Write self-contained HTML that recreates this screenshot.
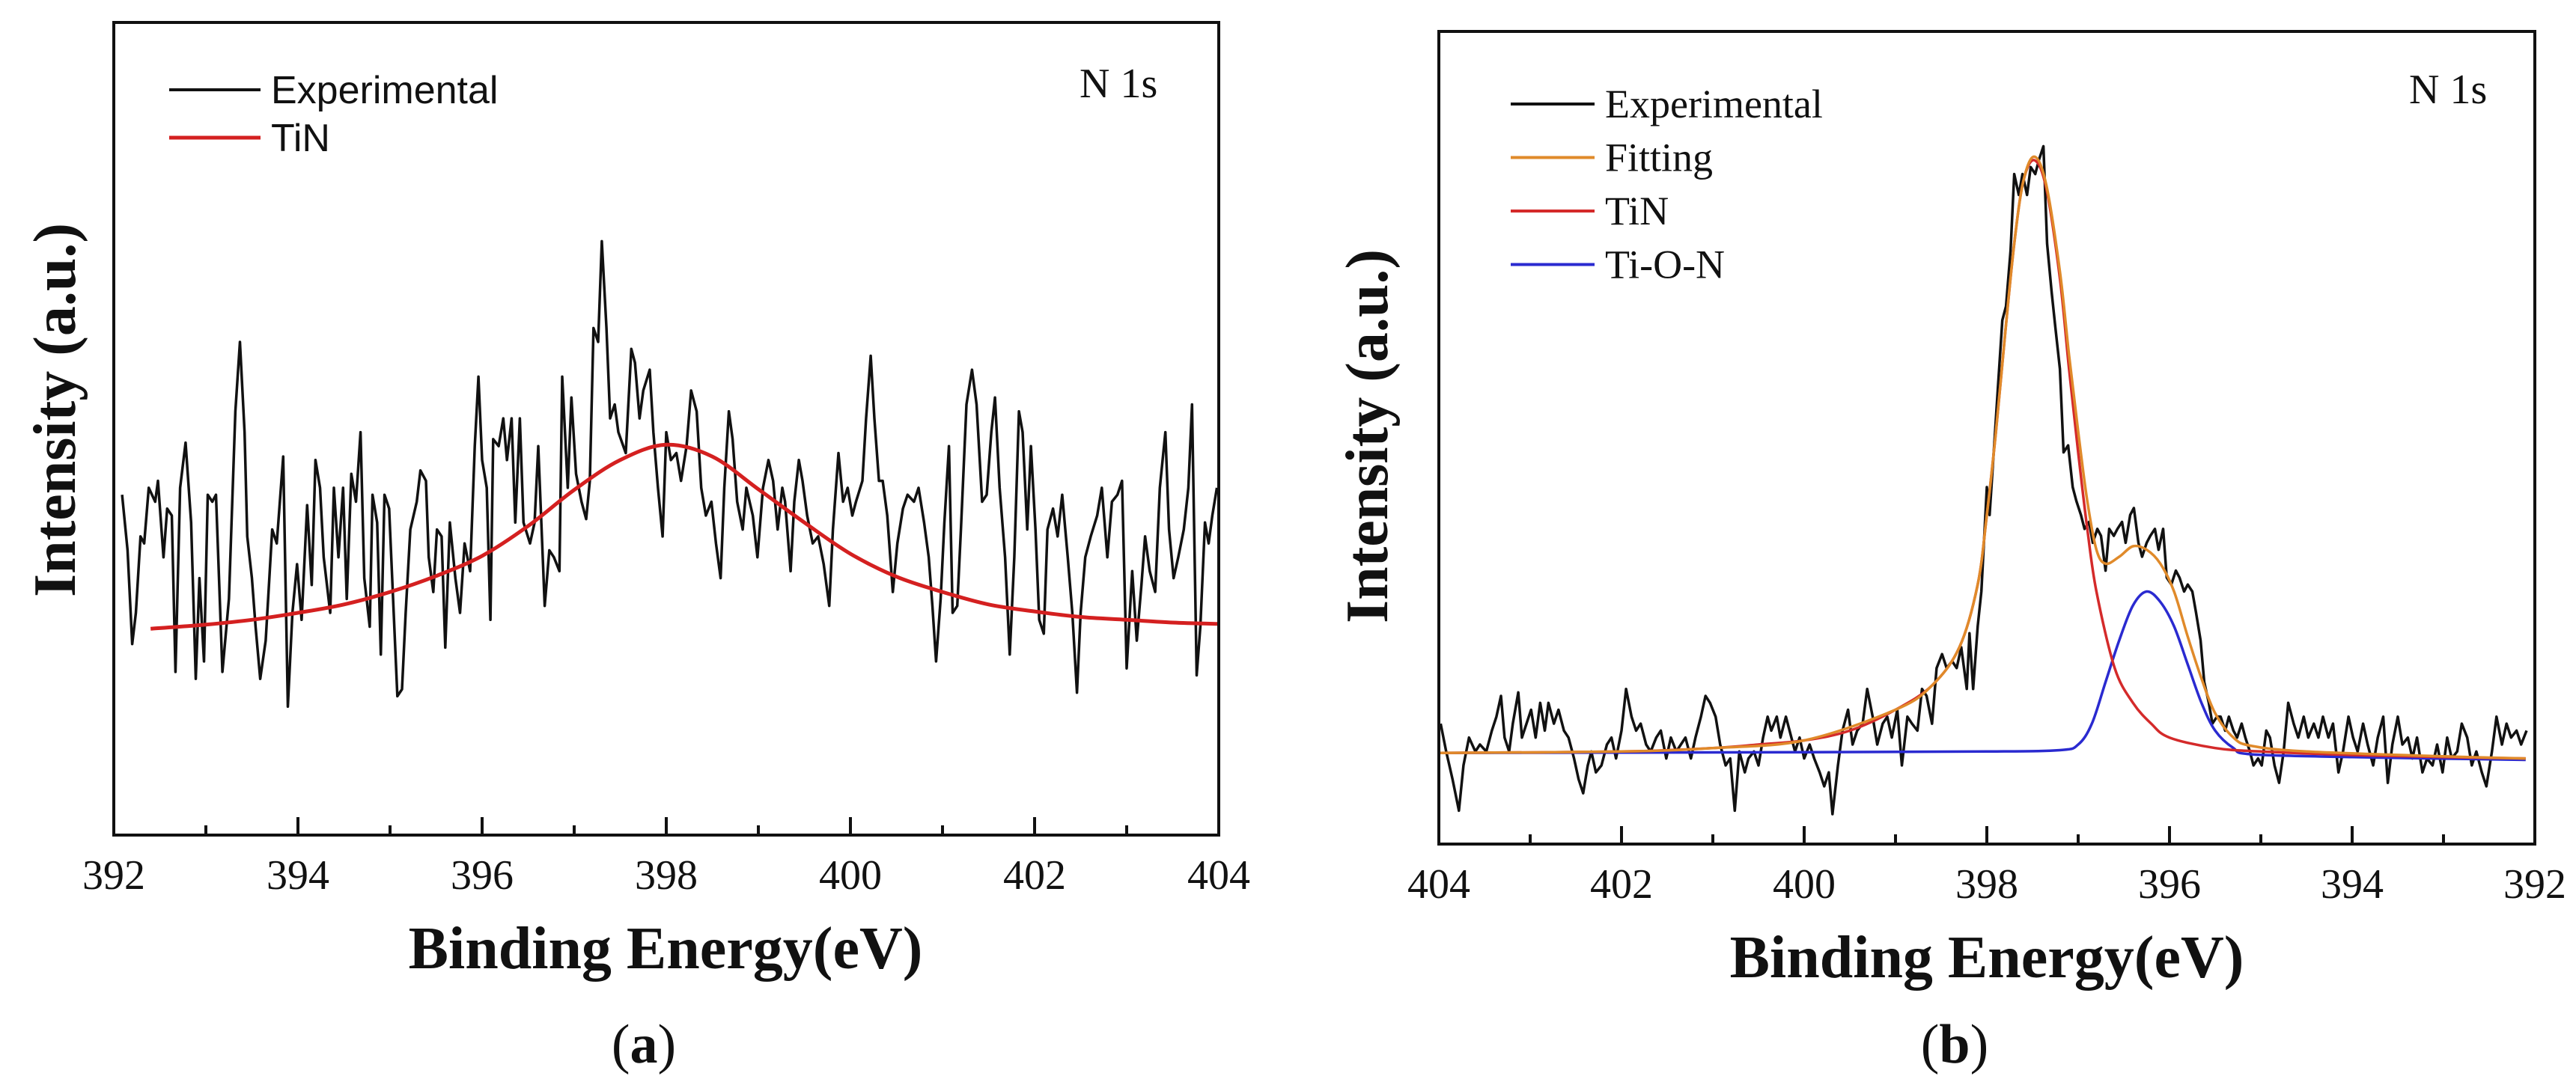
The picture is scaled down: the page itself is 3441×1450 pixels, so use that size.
<!DOCTYPE html>
<html><head><meta charset="utf-8"><style>
html,body{margin:0;padding:0;background:#fff;}
svg{display:block;}
text{font-family:"Liberation Serif",serif;fill:#111;}
.sans{font-family:"Liberation Sans",sans-serif;}
</style></head><body>
<svg id="fig" width="3441" height="1450" viewBox="0 0 3441 1450" xmlns="http://www.w3.org/2000/svg"></svg>
<script>
// ---------- Panel (a) data ----------
const aExpEnergy=[392.09,392.15,392.20,392.24,392.29,392.33,392.38,392.45,392.48,392.54,392.58,392.63,392.67,392.72,392.78,392.84,392.89,392.93,392.98,393.02,393.07,393.11,393.18,393.25,393.32,393.37,393.42,393.45,393.50,393.54,393.59,393.65,393.72,393.77,393.84,393.89,393.94,393.99,394.04,394.10,394.15,394.19,394.24,394.28,394.35,394.39,394.44,394.49,394.53,394.58,394.63,394.68,394.72,394.78,394.81,394.86,394.90,394.94,394.99,395.04,395.08,395.13,395.17,395.22,395.29,395.33,395.39,395.42,395.47,395.51,395.56,395.60,395.65,395.71,395.76,395.81,395.87,395.92,395.96,396.00,396.05,396.09,396.12,396.18,396.23,396.27,396.32,396.36,396.41,396.45,396.52,396.57,396.61,396.68,396.73,396.78,396.84,396.87,396.93,396.97,397.02,397.08,397.13,397.17,397.21,397.26,397.30,397.35,397.39,397.44,397.48,397.56,397.62,397.66,397.71,397.75,397.82,397.86,397.91,397.96,398.00,398.05,398.11,398.16,398.22,398.27,398.33,398.38,398.43,398.49,398.54,398.59,398.63,398.68,398.72,398.77,398.83,398.87,398.94,398.99,399.05,399.11,399.16,399.21,399.26,399.29,399.35,399.39,399.44,399.48,399.53,399.59,399.65,399.71,399.77,399.81,399.87,399.92,399.97,400.02,400.06,400.13,400.17,400.22,400.26,400.31,400.35,400.40,400.46,400.51,400.57,400.62,400.69,400.74,400.80,400.85,400.89,400.93,400.98,401.02,401.07,401.11,401.16,401.20,401.26,401.32,401.37,401.43,401.48,401.53,401.57,401.62,401.68,401.73,401.78,401.83,401.87,401.92,401.96,402.01,402.05,402.10,402.14,402.20,402.25,402.30,402.36,402.41,402.46,402.50,402.55,402.61,402.68,402.73,402.79,402.84,402.90,402.95,403.00,403.06,403.11,403.16,403.20,403.25,403.31,403.36,403.42,403.46,403.51,403.56,403.62,403.67,403.71,403.76,403.80,403.85,403.89,403.93,403.98];
const aExpIntensity=[49,41,27.5,32,43,42,50,48,51,40,47,46,23.5,50,56.5,45,22.5,37,25,49,48,49,23.5,34,61,71,58,43,37,30,22.5,28,44,42,54.5,18.5,32,39,31,47.5,36,54,50,40,32,50,40,50,34,52,48,58,37,30,49,45,26,49,47,32,20,21,32,44,48,52.5,51,40,35,44,43,27,45,37,32,42,38,56,66,54,50,31,57,56,60,54,60,45,60,45,42,45,56,33,41,40,38,66,50,63,52,48,45.5,51,73,71,85.5,73,60,62,58,55,70,68,60,64,67,58,50,43,58,54,55,51,56,64,61,50,46,48,42,37,50,61,57,48,44,50,46,40,50,54,51,44,50,48,38,48,54,51,46,42,43,39,33,44,55,48,50,46,48,51,60,69,60,51,51,46,35,42,47,49,48,50,45,40,33,25,34,45,56,32,33,44,62,67,62,48,49,58,63,50,40,26,40,61,58,44,56,44,31,29,44,47,43,49,40,32,20.5,32,40,43,46,50,40,48,49,51,24,38,28,36,43,38,35,50,58,44,37,40,44,50,62,23,30,45,42,46,50];
const aFitEnergy=[392.4,393,393.5,394,394.5,395,395.5,396,396.5,397,397.5,398,398.5,399,399.5,400,400.5,401,401.5,402,402.5,403,403.5,404];
const aFitIntensity=[29.7,30.3,31,32,33.2,35,37.3,40.2,44.5,49.7,54,56.2,54.5,49.8,45,40.5,37.2,35,33.2,32.2,31.4,31,30.6,30.4];
const aTicks=[392,394,396,398,400,402,404];

// ---------- Panel (b) data ----------
const bExpEnergy=[403.98,403.92,403.85,403.78,403.73,403.67,403.60,403.55,403.48,403.42,403.37,403.32,403.28,403.23,403.19,403.13,403.09,403.04,402.99,402.94,402.89,402.84,402.80,402.74,402.69,402.63,402.58,402.52,402.47,402.42,402.37,402.33,402.28,402.22,402.16,402.11,402.06,402.00,401.95,401.89,401.84,401.79,401.73,401.68,401.62,401.57,401.51,401.46,401.40,401.35,401.30,401.24,401.19,401.13,401.08,401.03,400.97,400.92,400.86,400.81,400.76,400.71,400.65,400.61,400.55,400.50,400.45,400.40,400.36,400.30,400.26,400.20,400.16,400.10,400.05,400.00,399.94,399.89,399.83,399.78,399.73,399.69,399.63,399.58,399.52,399.47,399.42,399.36,399.31,399.25,399.20,399.14,399.09,399.04,398.98,398.93,398.87,398.82,398.76,398.71,398.66,398.60,398.55,398.49,398.44,398.38,398.33,398.28,398.22,398.19,398.15,398.10,398.06,398.00,397.97,397.92,397.88,397.83,397.79,397.74,397.70,397.65,397.61,397.56,397.52,397.47,397.43,397.38,397.34,397.29,397.25,397.20,397.16,397.11,397.06,397.02,396.97,396.93,396.88,396.84,396.79,396.75,396.70,396.66,396.61,396.57,396.52,396.48,396.43,396.39,396.34,396.30,396.25,396.21,396.16,396.12,396.07,396.03,395.98,395.93,395.89,395.84,395.80,395.75,395.71,395.66,395.62,395.57,395.53,395.48,395.44,395.39,395.35,395.30,395.26,395.21,395.17,395.12,395.08,395.03,394.99,394.94,394.90,394.85,394.80,394.75,394.70,394.64,394.59,394.53,394.48,394.42,394.37,394.32,394.26,394.21,394.15,394.10,394.04,393.99,393.94,393.88,393.83,393.77,393.72,393.66,393.61,393.56,393.50,393.45,393.39,393.34,393.29,393.23,393.18,393.12,393.07,393.01,392.96,392.91,392.85,392.80,392.74,392.69,392.64,392.58,392.53,392.47,392.42,392.36,392.31,392.26,392.20,392.15,392.09];
const bExpIntensity=[16,12,8,3.5,10,14,12,13,12,15,17,20,14,12,16,20.5,14,16,18,14,19,15,19,16,18,15,14,11,8,6,10,12,9,10,13,14,11,15,21,17,15,16,13,12,14,15,11,14,12,13,14,11,14,17,20,19,17,13,10,11,3.5,12,9,11,12,10,14,17,15,17,14,17,15,12,14,11,13,11,9,7,9,3,10,15,18,13,15,16,21,17,13,16,17,14,18,10,17,16,15,21,20,16,24,26,24,25,24,27,21,29,21,30,35,50,46,56,64,74,76,84,95,92,95,92,96,95,97,99,85,78,73,67,55,56,50,48,46,44,45,42,44,43,38,44,43,44,45,42,46,47,42,40,42,43,44,41,44,37,36,38,37,35,36,35,32,28,22,19,16,17,17,15,17,15,14,16,14,12,10,11,10,15,14,10,7.5,12,19,16,14,17,14,16,14,17,14,16,9,12,17,14,12,16,13,10,14,17,7.5,13,17,13,14,11,14,9,11,10,13,9,14,11,12,16,14,10,12,9,7,12,17,13,16,14,15,13,15];
const bTiNEnergy=[404,402,401,400.5,400,399.5,399,398.6,398.3,398.1,398,397.9,397.8,397.7,397.6,397.48,397.35,397.2,397.1,397,396.9,396.8,396.6,396.4,396.2,396,395.5,395,394,393,392.1];
const bTiNIntensity=[11.8,12,12.5,13,13.6,15,18,21.5,27,36,46,58,72,85,94,97,93,80,67,55,44,35,24,19,16,14,12.5,12,11.5,11.2,11];
const bTiONEnergy=[404,400,398,397.2,397,396.85,396.7,396.55,396.4,396.25,396.1,395.95,395.8,395.65,395.5,395.3,395.1,394,392.1];
const bTiONIntensity=[11.8,11.9,12,12.2,13,16,22,28,33,35,33.5,30,24.5,19,15,12.5,11.6,11.2,10.8];
const bFitEnergy=[404,402,401,400,399,398.6,398.3,398.1,398,397.9,397.8,397.7,397.6,397.48,397.35,397.2,397.1,397,396.9,396.8,396.7,396.55,396.4,396.25,396.1,395.95,395.8,395.65,395.5,395.3,395.1,394.5,393,392.1];
const bFitIntensity=[11.8,12,12.5,13.6,18,21.5,27,36,46,58,72,85,94,97.5,93.5,81,69,58,48,41,39,40,41.5,41,39,35,28.5,22.5,17.5,14,12.8,12,11.3,11];
const bTicks=[404,402,400,398,396,394,392];

const NS='http://www.w3.org/2000/svg';
const svg=document.getElementById('fig');
function mk(tag,attrs,parent){const e=document.createElementNS(NS,tag);for(const k in attrs)e.setAttribute(k,attrs[k]);(parent||svg).appendChild(e);return e;}
function txt(str,attrs,parent){const t=mk('text',attrs,parent);t.textContent=str;return t;}

function smoothPath(pts){
  let d='M'+pts[0][0].toFixed(1)+','+pts[0][1].toFixed(1);
  for(let i=0;i<pts.length-1;i++){
    const p0=pts[Math.max(0,i-1)],p1=pts[i],p2=pts[i+1],p3=pts[Math.min(pts.length-1,i+2)];
    const c1x=p1[0]+(p2[0]-p0[0])/6,c1y=p1[1]+(p2[1]-p0[1])/6;
    const c2x=p2[0]-(p3[0]-p1[0])/6,c2y=p2[1]-(p3[1]-p1[1])/6;
    d+=' C'+c1x.toFixed(1)+','+c1y.toFixed(1)+' '+c2x.toFixed(1)+','+c2y.toFixed(1)+' '+p2[0].toFixed(1)+','+p2[1].toFixed(1);
  }
  return d;
}

function panel(cfg){
  const g=mk('g',{});
  
  
  const X=e=>cfg.x0+(e-cfg.e0)/(cfg.e1-cfg.e0)*(cfg.x1-cfg.x0);
  const Y=v=>cfg.y1-(v-cfg.v0)/(cfg.v1-cfg.v0)*(cfg.y1-cfg.y0);
  // series
  cfg.series.forEach(s=>{
    const pts=s.e.map((e,i)=>[X(e),Y(s.v[i])]);
    let p;
    if(s.smooth){p=mk('path',{d:smoothPath(pts),fill:'none',stroke:s.color,'stroke-width':s.w,'stroke-linejoin':'round'},g);}
    else{p=mk('polyline',{points:pts.map(q=>q[0].toFixed(1)+','+q[1].toFixed(1)).join(' '),fill:'none',stroke:s.color,'stroke-width':s.w,'stroke-linejoin':'round'},g);}
    
    
  });
  // frame
  const fr=mk('rect',{x:cfg.x0,y:cfg.y0,width:cfg.x1-cfg.x0,height:cfg.y1-cfg.y0,fill:'none',stroke:'#111','stroke-width':4},g);
  
  
  // ticks
  const lo=Math.min(cfg.e0,cfg.e1),hi=Math.max(cfg.e0,cfg.e1);
  for(let e=lo;e<=hi;e+=1){
    const major=(e%2===0);
    const tk=mk('line',{x1:X(e),x2:X(e),y1:cfg.y1,y2:cfg.y1-(major?24:13),stroke:'#111','stroke-width':4},g);
    
    
  }
  cfg.ticks.forEach(t=>{
    const l=txt(String(t),{x:X(t),y:cfg.y1+72,'font-size':56,'text-anchor':'middle'},g);
    
    
  });
  const xl=txt('Binding Energy(eV)',{x:cfg.xlabX,y:cfg.y1+178,'font-size':80,'font-weight':'bold','text-anchor':'middle'},g);
  
  
  const yl=txt('Intensity (a.u.)',{x:0,y:0,'font-size':80,'font-weight':'bold','text-anchor':'middle',transform:'translate('+(cfg.ylabX)+','+cfg.ylabY+') rotate(-90)'},g);
  
  
  const n1=txt('N 1s',{x:cfg.n1x,y:cfg.n1y,'font-size':56},g);
  
  
  const cap=mk('text',{x:cfg.capX,y:1420,'font-size':74,'text-anchor':'middle'},g);
  
  
  cap.appendChild(document.createTextNode('('));
  const b=mk('tspan',{'font-weight':'bold'},cap);b.textContent=cfg.cap;
  cap.appendChild(document.createTextNode(')'));
  // legend
  cfg.legend.forEach((L,i)=>{
    const lg=mk('g',{},g);
    
    
    const yy=cfg.legY+i*cfg.legDy;
    mk('line',{x1:cfg.legX,x2:cfg.legX+cfg.legLen,y1:yy,y2:yy,stroke:L.color,'stroke-width':L.w},lg);
    const t=txt(L.label,{x:cfg.legX+cfg.legLen+14,y:yy+18,'font-size':cfg.legFont},lg);
    if(cfg.legSans)t.setAttribute('class','sans');
  });
}

panel({name:'panel-a',x0:152,x1:1628,y0:30,y1:1116,e0:392,e1:404,v0:0,v1:117,
  ticks:aTicks,xlabX:889,ylabX:100,ylabY:548,n1x:1442,n1y:130,capX:860,cap:'a',
  series:[
    {name:'experimental-line',e:aExpEnergy,v:aExpIntensity,color:'#111',w:3.5,smooth:false},
    {name:'tin-fit-line',e:aFitEnergy,v:aFitIntensity,color:'#d42020',w:5,smooth:true}
  ],
  legend:[{label:'Experimental',color:'#111',w:4},{label:'TiN',color:'#d42020',w:5}],
  legX:226,legLen:122,legY:120,legDy:64,legFont:52,legSans:true});

panel({name:'panel-b',x0:1922,x1:3386,y0:42,y1:1128,e0:404,e1:392,v0:-1.3,v1:115.5,
  ticks:bTicks,xlabX:2654,ylabX:1853,ylabY:583,n1x:3218,n1y:138,capX:2611,cap:'b',
  series:[
    {name:'experimental-line',e:bExpEnergy,v:bExpIntensity,color:'#111',w:3.5,smooth:false},
    {name:'ti-o-n-fit-line',e:bTiONEnergy,v:bTiONIntensity,color:'#2a2ad0',w:3.5,smooth:true},
    {name:'tin-fit-line',e:bTiNEnergy,v:bTiNIntensity,color:'#d42a2a',w:3.5,smooth:true},
    {name:'total-fitting-line',e:bFitEnergy,v:bFitIntensity,color:'#e08a2a',w:3.5,smooth:true}
  ],
  legend:[{label:'Experimental',color:'#111',w:4},{label:'Fitting',color:'#e08a2a',w:4},{label:'TiN',color:'#d42a2a',w:4},{label:'Ti-O-N',color:'#2a2ad0',w:4}],
  legX:2018,legLen:112,legY:139,legDy:71.5,legFont:54,legSans:false});
</script>
</body></html>
